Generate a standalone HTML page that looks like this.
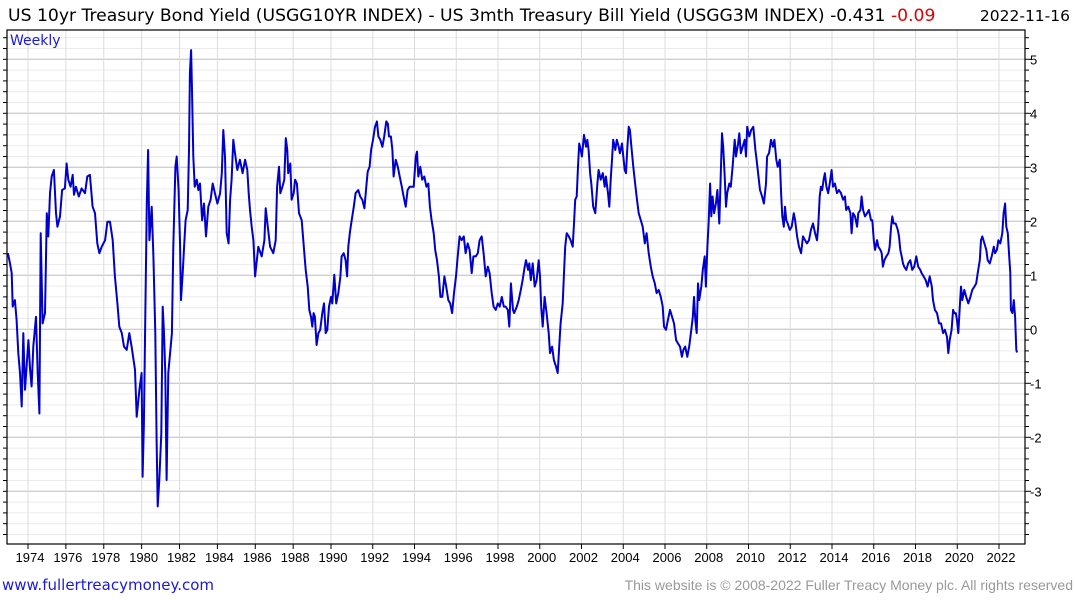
<!DOCTYPE html>
<html><head><meta charset="utf-8"><style>
body{margin:0;background:#fff;width:1075px;height:600px;overflow:hidden;font-family:"Liberation Sans","DejaVu Sans",sans-serif}
svg{display:block}
</style></head><body>
<svg id="chart" width="1075" height="600">
<text x="8" y="21" font-size="17.2" font-family="DejaVu Sans, sans-serif" fill="#000">US 10yr Treasury Bond Yield (USGG10YR INDEX) - US 3mth Treasury Bill Yield (USGG3M INDEX) -0.431 <tspan fill="#e00000">-0.09</tspan></text>
<text x="1070" y="21" font-size="15.5" font-family="DejaVu Sans, sans-serif" text-anchor="end" fill="#000">2022-11-16</text>
<g id="grid"></g>
<g id="axes"></g>
<text x="10" y="45" font-size="14" font-family="DejaVu Sans, sans-serif" fill="#1a1adc">Weekly</text>
<text x="2" y="590" font-size="15" font-family="DejaVu Sans, sans-serif" fill="#1a1adc">www.fullertreacymoney.com</text>
<text x="1073" y="590" font-size="14" text-anchor="end" fill="#999">This website is © 2008-2022 Fuller Treacy Money plc. All rights reserved</text>
</svg>
<script>
const dates=[1972.94,1973.05,1973.14,1973.19,1973.31,1973.40,1973.49,1973.58,1973.67,1973.75,1973.84,1974.02,1974.11,1974.19,1974.28,1974.42,1974.51,1974.60,1974.67,1974.77,1974.90,1974.99,1975.07,1975.16,1975.25,1975.37,1975.48,1975.55,1975.69,1975.80,1975.95,1976.04,1976.13,1976.25,1976.36,1976.43,1976.53,1976.68,1976.83,1977.01,1977.13,1977.27,1977.41,1977.54,1977.66,1977.77,1977.89,1978.07,1978.19,1978.33,1978.47,1978.59,1978.72,1978.82,1978.95,1979.07,1979.21,1979.35,1979.47,1979.65,1979.74,1979.88,1980.00,1980.05,1980.12,1980.21,1980.27,1980.34,1980.41,1980.53,1980.62,1980.72,1980.79,1980.85,1980.93,1981.04,1981.11,1981.18,1981.25,1981.32,1981.41,1981.50,1981.60,1981.67,1981.78,1981.85,1981.95,1982.03,1982.08,1982.17,1982.24,1982.32,1982.43,1982.50,1982.55,1982.61,1982.66,1982.73,1982.80,1982.91,1982.99,1983.08,1983.19,1983.29,1983.40,1983.52,1983.64,1983.75,1983.87,1984.00,1984.14,1984.23,1984.31,1984.40,1984.49,1984.59,1984.67,1984.75,1984.84,1984.93,1985.05,1985.19,1985.33,1985.46,1985.58,1985.65,1985.72,1985.81,1985.90,1985.99,
1986.16,1986.34,1986.48,1986.55,1986.66,1986.78,1986.95,1987.08,1987.15,1987.25,1987.32,1987.43,1987.53,1987.61,1987.69,1987.74,1987.85,1987.92,1988.03,1988.10,1988.20,1988.31,1988.45,1988.56,1988.66,1988.77,1988.85,1988.94,1989.01,1989.08,1989.15,1989.24,1989.33,1989.43,1989.54,1989.63,1989.72,1989.80,1989.89,1990.00,
1990.06,1990.16,1990.25,1990.35,1990.45,1990.51,1990.61,1990.70,1990.77,1990.83,1990.91,1990.99,1991.09,1991.18,1991.31,1991.40,1991.50,1991.60,1991.69,1991.76,1991.85,1991.92,1992.01,1992.11,1992.20,1992.27,1992.36,1992.46,1992.55,1992.65,1992.72,1992.78,1992.87,1992.94,1993.00,1993.10,1993.20,1993.29,1993.39,1993.48,1993.58,1993.67,1993.77,1993.87,1993.96,1994.06,1994.12,1994.18,1994.28,1994.37,1994.47,1994.57,1994.66,1994.74,1994.82,1994.92,1994.99,1995.08,1995.17,1995.24,1995.33,1995.43,1995.52,1995.62,1995.71,1995.80,1995.89,1995.99,1996.07,1996.16,1996.26,1996.36,1996.45,1996.55,1996.64,1996.74,1996.82,1996.93,1997.03,1997.12,1997.22,1997.31,1997.41,1997.51,1997.60,1997.70,1997.79,1997.89,1997.99,1998.08,1998.18,1998.28,1998.37,1998.47,1998.54,1998.62,1998.72,
1998.77,1998.90,1998.99,1999.09,1999.18,1999.28,1999.34,1999.44,1999.50,1999.57,1999.66,1999.76,1999.85,1999.95,2000.01,2000.07,2000.14,2000.23,2000.33,2000.43,2000.49,2000.59,2000.68,2000.78,2000.86,2000.94,2001.00,2001.10,2001.16,2001.22,2001.29,2001.39,2001.48,2001.58,2001.64,2001.70,2001.77,2001.83,2001.89,2001.96,2002.02,2002.12,2002.22,2002.28,2002.34,2002.41,2002.47,2002.56,2002.66,2002.76,2002.82,2002.92,2003.02,2003.11,2003.17,2003.27,2003.33,2003.40,2003.46,2003.52,2003.62,2003.69,2003.78,2003.84,2003.94,2004.00,2004.07,2004.13,2004.19,2004.26,2004.32,2004.39,2004.48,2004.55,2004.64,2004.74,2004.84,2004.93,2005.03,2005.12,2005.22,2005.32,2005.41,2005.51,2005.60,2005.70,2005.80,2005.89,2005.95,2006.05,2006.14,2006.24,2006.34,2006.43,2006.53,2006.62,2006.72,2006.81,2006.88,2006.97,2007.07,2007.16,2007.26,2007.33,2007.39,2007.45,2007.52,2007.58,2007.64,2007.74,2007.81,2007.90,2007.96,2008.03,2008.09,2008.16,2008.22,2008.28,2008.35,2008.44,2008.51,2008.60,2008.67,2008.73,2008.79,2008.86,2008.92,2008.98,2009.08,2009.15,2009.24,2009.34,2009.40,2009.50,2009.56,2009.63,2009.72,2009.82,2009.88,2009.94,2010.04,2010.13,2010.23,2010.33,2010.39,2010.46,2010.55,2010.65,2010.74,2010.84,
2010.89,2010.98,2011.08,2011.17,2011.24,2011.33,2011.40,2011.50,2011.56,2011.62,2011.69,2011.75,2011.81,2011.88,2011.98,2012.07,2012.17,2012.23,2012.33,2012.42,2012.52,2012.61,2012.71,2012.80,2012.90,2012.99,2013.09,2013.19,2013.28,2013.34,2013.41,2013.47,2013.53,2013.60,2013.66,2013.73,2013.82,2013.92,2013.98,2014.05,2014.14,2014.24,2014.33,2014.43,2014.53,2014.62,2014.68,2014.78,2014.88,2014.94,2015.01,2015.10,2015.20,2015.26,2015.36,2015.42,2015.49,2015.58,2015.68,2015.77,2015.87,2015.93,2016.00,2016.06,2016.16,2016.22,2016.32,2016.38,2016.44,2016.51,2016.60,2016.70,2016.76,2016.83,2016.89,2016.95,2017.05,2017.15,2017.21,2017.27,2017.34,2017.40,2017.46,2017.56,2017.65,2017.75,2017.84,2017.94,2018.04,2018.13,2018.23,2018.29,2018.39,2018.49,2018.58,2018.68,2018.78,2018.84,2018.93,2019.03,2019.13,2019.22,2019.32,2019.41,2019.51,2019.57,2019.64,2019.73,2019.80,2019.86,2019.93,2019.99,2020.05,2020.12,2020.18,2020.24,2020.34,2020.43,2020.53,2020.63,2020.72,2020.82,2020.91,2020.98,2021.08,2021.14,2021.20,2021.30,2021.39,2021.46,2021.56,2021.65,2021.75,2021.81,2021.90,2021.97,2022.06,2022.16,2022.22,2022.29,2022.35,2022.42,2022.48,2022.54,2022.57,2022.64,2022.71,2022.77,2022.83,2022.86];
const spread=[1.41,1.22,1.04,0.42,0.54,0.17,-0.44,-0.81,-1.43,-0.07,-1.12,-0.20,-0.75,-1.06,-0.32,0.23,-0.81,-1.56,1.78,0.11,0.30,2.15,1.72,2.52,2.83,2.95,2.15,1.90,2.09,2.58,2.61,3.07,2.77,2.64,2.86,2.49,2.64,2.46,2.61,2.52,2.83,2.86,2.27,2.15,1.59,1.41,1.53,1.65,1.99,1.99,1.65,0.98,0.48,0.05,-0.07,-0.32,-0.38,-0.07,-0.32,-0.75,-1.62,-1.12,-0.81,-2.73,-1.74,0.67,2.33,3.32,1.65,2.27,1.35,-0.07,-2.05,-3.28,-2.79,-1.93,0.42,-0.07,-0.81,-2.79,-0.81,-0.44,-0.07,1.53,3.01,3.20,2.58,1.53,0.54,1.04,1.53,2.02,2.21,3.32,4.74,5.17,4.43,3.20,2.64,2.77,2.58,2.70,2.02,2.33,1.72,2.27,2.40,2.70,2.52,2.33,2.52,2.89,3.69,3.20,1.78,1.59,2.40,2.77,3.51,3.26,2.95,3.14,2.89,3.14,2.95,2.52,2.21,1.90,1.65,0.98,
1.53,1.35,1.65,2.24,1.90,1.53,1.41,1.65,2.64,3.01,2.52,2.64,2.77,3.54,3.32,2.89,3.07,2.40,2.52,2.77,2.70,2.15,2.02,1.53,1.10,0.79,0.36,0.23,0.05,0.30,0.23,-0.29,-0.07,-0.01,0.30,0.48,-0.07,-0.01,0.42,0.60,
0.48,1.01,0.48,0.67,0.98,1.35,1.41,1.28,0.98,1.53,1.81,2.02,2.27,2.52,2.58,2.46,2.40,2.24,2.64,2.92,3.01,3.32,3.51,3.75,3.85,3.57,3.51,3.38,3.57,3.85,3.81,3.57,3.57,3.32,2.83,3.14,3.01,2.83,2.64,2.46,2.27,2.58,2.64,2.64,2.64,3.20,3.29,2.83,3.01,2.77,2.83,2.64,2.70,2.27,2.02,1.78,1.47,1.28,0.98,0.60,0.60,0.98,0.79,0.54,0.48,0.30,0.67,0.98,1.35,1.72,1.65,1.72,1.41,1.59,1.47,1.04,1.35,1.35,1.41,1.65,1.72,1.41,0.98,1.16,1.04,0.67,0.42,0.36,0.48,0.42,0.60,0.42,0.42,0.36,0.05,0.85,0.36,
0.30,0.42,0.54,0.73,0.91,1.16,1.28,1.10,1.22,0.91,1.22,0.79,0.91,1.28,0.98,0.42,0.05,0.60,0.30,-0.07,-0.44,-0.32,-0.57,-0.69,-0.81,-0.26,0.11,0.48,1.04,1.53,1.78,1.72,1.65,1.53,1.96,2.40,2.46,3.01,3.44,3.32,3.20,3.60,3.38,3.51,3.32,2.89,2.70,2.27,2.15,2.70,2.95,2.77,2.89,2.64,2.83,2.52,2.27,2.77,3.14,3.51,3.32,3.51,3.38,3.26,3.44,3.20,2.95,2.89,3.32,3.75,3.69,3.38,3.01,2.77,2.46,2.15,2.02,1.90,1.59,1.78,1.41,1.16,0.98,0.85,0.67,0.73,0.60,0.42,0.05,-0.01,0.17,0.36,0.23,0.11,-0.20,-0.26,-0.32,-0.51,-0.38,-0.32,-0.51,-0.32,-0.01,0.23,0.60,0.17,-0.07,0.85,0.54,0.79,1.10,1.35,0.79,1.53,1.96,2.70,2.09,2.46,2.15,2.33,2.58,1.96,2.83,3.63,3.38,2.83,2.27,2.52,2.70,2.64,3.01,3.51,3.20,3.44,3.63,3.26,3.38,3.51,3.20,3.75,3.57,3.69,3.75,3.32,3.14,2.89,2.58,2.46,2.33,2.70,
3.20,3.26,3.51,3.38,3.51,3.14,3.01,3.14,2.52,2.09,1.90,2.27,2.02,1.96,1.84,1.90,2.15,2.02,1.72,1.53,1.41,1.72,1.65,1.59,1.65,1.84,1.96,1.78,1.65,1.90,2.46,2.64,2.58,2.77,2.89,2.64,2.52,2.77,2.95,2.64,2.70,2.52,2.58,2.52,2.40,2.46,2.21,2.27,2.15,1.78,2.15,2.09,1.90,2.15,2.21,2.46,2.21,2.09,2.15,2.21,2.02,2.02,1.65,1.47,1.65,1.53,1.47,1.41,1.16,1.28,1.35,1.41,1.53,1.90,2.09,1.96,1.96,1.84,1.72,1.47,1.35,1.22,1.16,1.10,1.22,1.28,1.10,1.16,1.35,1.16,1.10,1.04,0.98,0.91,0.79,0.98,0.79,0.54,0.36,0.30,0.11,0.11,-0.07,-0.01,-0.14,-0.44,-0.20,-0.01,0.36,0.30,0.30,0.17,-0.07,0.42,0.79,0.54,0.73,0.60,0.48,0.60,0.73,0.79,0.85,1.04,1.28,1.65,1.72,1.59,1.47,1.28,1.22,1.35,1.53,1.41,1.47,1.65,1.59,1.78,2.15,2.33,1.90,1.78,1.41,1.04,0.36,0.30,0.54,0.23,-0.38,-0.43];
const yTicks=[5,4,3,2,1,0,-1,-2,-3];
const yTickLabels=["5","4","3","2","1","0","-1","-2","-3"];
const xTickYears=[1974,1976,1978,1980,1982,1984,1986,1988,1990,1992,1994,1996,1998,2000,2002,2004,2006,2008,2010,2012,2014,2016,2018,2020,2022];

const NS="http://www.w3.org/2000/svg";
const L=7,R=1025,T=30,B=544;
function yScale(v){return 329.3-54*v;}
function xScale(yr){
  if(yr<1990) return 28+(yr-1974)*18.94;
  return 331+(yr-1990)*20.875;
}
function mk(tag,attrs,parent){const e=document.createElementNS(NS,tag);for(const k in attrs)e.setAttribute(k,attrs[k]);parent.appendChild(e);return e;}
const grid=document.getElementById('grid'),axes=document.getElementById('axes'),svg=document.getElementById('chart');
for(let i=-19;i<=27;i++){
  const v=i/5,y=yScale(v);
  if(y<T||y>B)continue;
  const major=(i%5===0);
  const ln=mk('line',{x1:L,x2:R,y1:y,y2:y,stroke:major?'#bdbdbd':'#ececec','stroke-width':1},grid);
  
  
  const tk=mk('line',{x1:R,x2:R+(major?6:4),y1:y,y2:y,stroke:'#000','stroke-width':1},axes);
  
  
  const tl=mk('line',{x1:L-4,x2:L,y1:y,y2:y,stroke:'#000','stroke-width':1},axes);
  
  
}
yTicks.forEach((v,i)=>{
  const t=mk('text',{x:1030,y:yScale(v)+5,'font-size':13,fill:'#000'},axes);
  t.textContent=yTickLabels[i];
  
  
});
xTickYears.forEach(yr=>{
  const x=xScale(yr);
  const g=mk('line',{x1:x,x2:x,y1:T,y2:B,stroke:'#dcdcdc','stroke-width':1},grid);
  
  
  const tk=mk('line',{x1:x,x2:x,y1:B,y2:B+5,stroke:'#000','stroke-width':1},axes);
  
  
  const t=mk('text',{x:x+2,y:B+18,'font-size':13,'text-anchor':'middle',fill:'#000'},axes);
  t.textContent=yr;
  
  
});
const fr=mk('rect',{x:L,y:T,width:R-L,height:B-T,fill:'none',stroke:'#000','stroke-width':1.2},axes);


let d='';
dates.forEach((yr,i)=>{d+=(i?'L':'M')+xScale(yr).toFixed(1)+' '+yScale(spread[i]).toFixed(1);});
const line=mk('path',{d:d,fill:'none',stroke:'#0000cc','stroke-width':2,'stroke-linejoin':'round'},svg);


</script>
</body></html>
